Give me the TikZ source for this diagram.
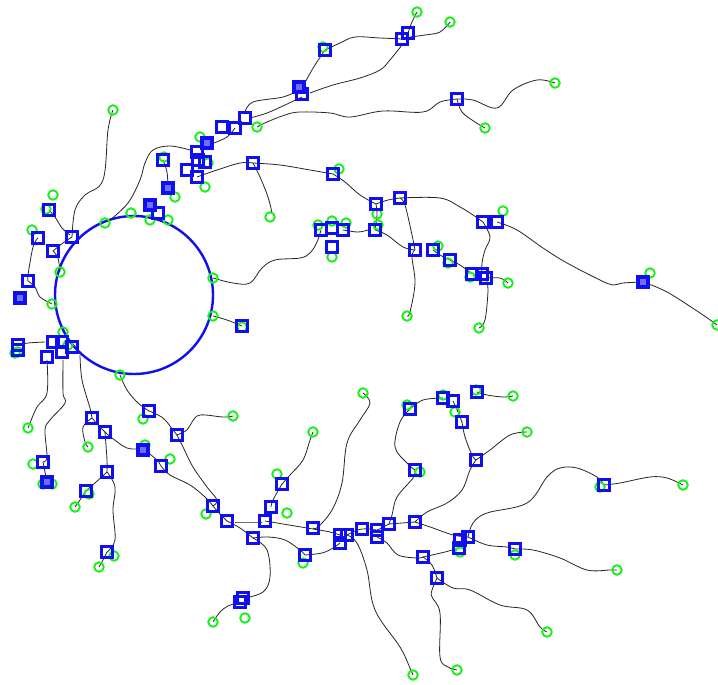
\documentclass[tikz,border=0pt]{standalone}
\usepackage{tikz}
\definecolor{sqblue}{RGB}{15,15,240}
\definecolor{ringgreen}{RGB}{25,240,25}
\tikzset{
  sq/.style={draw=sqblue, line width=2.7pt, minimum size=11.2pt, inner sep=0pt},
  sqf/.style={draw=sqblue, line width=4pt, minimum size=10pt, inner sep=0pt, fill=sqblue!60!white},
  gr/.style={circle, draw=ringgreen, line width=1.9pt, minimum size=9.5pt, inner sep=0pt},
  br/.style={line width=0.8pt, black!85},
  ring/.style={draw=sqblue, line width=2.4pt}
}
\newcommand\brn[1]{\draw[br] plot[smooth, tension=0.6] coordinates {#1};}
\begin{document}
\begin{tikzpicture}[x=1pt,y=-1pt]
\useasboundingbox (0,0) rectangle (718,685);
\fill[white] (0,0) rectangle (718,685);
% central ring
\draw[ring] (134,295) circle [radius=79];
% branches
\brn{(417,12) (412,22) (408,33)}
\brn{(450,22) (440,32) (425,35) (410,37)}
\brn{(402,39) (380,38) (355,37) (340,43) (325,50)}
\brn{(325,50) (315,65) (308,77) (302,88)}
\brn{(402,45) (390,60) (380,70) (360,78) (333,85) (310,93)}
\brn{(257,127) (267,122) (285,115) (300,112) (330,113) (350,117) (383,111) (423,112) (440,102) (457,99)}
\brn{(457,99) (473,100) (497,108) (513,90) (537,80) (555,83)}
\brn{(457,99) (462,112) (475,122) (485,128)}
\brn{(299,90) (283,97) (253,102) (245,112)}
\brn{(302,97) (285,105) (267,113) (250,118)}
\brn{(235,128) (227,137) (214,143)}
\brn{(190,150) (170,146) (153,150) (145,163) (140,180) (128,203) (110,220)}
\brn{(163,160) (167,172) (168,188)}
\brn{(197,177) (217,170) (240,163) (253,163)}
\brn{(253,163) (280,165) (310,170) (333,174)}
\brn{(253,163) (260,177) (268,197) (272,213)}
\brn{(333,174) (345,182) (360,195) (376,204)}
\brn{(376,204) (388,200) (400,198)}
\brn{(376,204) (377,215) (375,230)}
\brn{(343,230) (358,232) (368,230)}
\brn{(321,230) (317,242) (310,253) (300,258) (275,260) (262,268) (250,283) (233,283) (213,278)}
\brn{(375,230) (387,235) (403,247) (415,250)}
\brn{(433,250) (440,255) (450,260) (460,265) (472,274)}
\brn{(400,198) (440,198) (460,207) (473,215) (483,222)}
\brn{(400,198) (405,205) (412,235) (415,250)}
\brn{(415,250) (412,257) (415,283) (410,312) (407,316)}
\brn{(483,222) (490,237) (485,250) (482,263) (482,274)}
\brn{(486,278) (488,290) (485,320) (479,328)}
\brn{(486,278) (500,278) (508,283)}
\brn{(497,222) (517,230) (543,248) (567,263) (600,280) (613,285) (623,283) (643,282)}
\brn{(643,282) (667,292) (700,313) (717,325)}
\brn{(113,110) (108,130) (103,180) (85,195) (75,210) (72,237)}
\brn{(49,210) (55,217) (62,228) (70,235)}
\brn{(72,237) (63,243) (53,251)}
\brn{(53,251) (58,258) (60,272)}
\brn{(38,238) (33,247) (28,275) (28,281)}
\brn{(28,281) (35,287) (40,297) (52,304)}
\brn{(213,316) (227,320) (242,326)}
\brn{(18,345) (28,343) (45,342)}
\brn{(47,360) (47,393) (37,407) (30,423) (28,428)}
\brn{(63,360) (63,393) (65,403) (50,420) (45,430) (47,457) (43,462)}
\brn{(43,462) (45,472) (47,482)}
\brn{(80,355) (82,380) (90,408) (92,418)}
\brn{(92,418) (83,427) (85,442) (88,447)}
\brn{(92,418) (98,425) (105,432)}
\brn{(105,432) (107,460) (107,472)}
\brn{(107,472) (95,483) (86,491) (80,500) (75,507)}
\brn{(107,472) (115,487) (113,510) (115,540) (107,552)}
\brn{(107,552) (103,560) (99,567)}
\brn{(105,432) (112,438) (127,448) (143,450) (157,460) (161,466) (170,475) (190,485) (205,497) (213,506)}
\brn{(120,375) (127,390) (138,403) (149,411)}
\brn{(149,411) (163,418) (173,430) (177,435)}
\brn{(177,435) (187,430) (192,422) (200,415) (223,417) (233,416)}
\brn{(177,435) (183,447) (193,467) (207,487) (217,500) (213,506)}
\brn{(213,506) (220,514) (227,521)}
\brn{(227,521) (240,528) (253,538)}
\brn{(235,522) (250,522) (262,522)}
\brn{(253,538) (268,537) (285,540) (300,550) (305,555)}
\brn{(265,521) (277,523) (307,528) (313,529)}
\brn{(313,529) (330,532) (340,535)}
\brn{(253,538) (267,550) (270,577) (263,592) (245,598)}
\brn{(240,602) (228,606) (220,612) (213,622)}
\brn{(271,507) (273,500) (282,484)}
\brn{(282,484) (290,475) (303,460) (310,440) (313,432)}
\brn{(313,528) (318,527) (332,510) (342,483) (347,443) (360,420) (370,403) (363,393)}
\brn{(410,409) (400,422) (395,447) (407,463) (415,470)}
\brn{(415,470) (413,478) (397,497) (392,515) (389,524)}
\brn{(410,409) (423,400) (443,398)}
\brn{(477,392) (487,395) (503,397) (513,396)}
\brn{(453,401) (458,412) (462,422)}
\brn{(462,422) (465,437) (472,455) (476,460)}
\brn{(476,460) (490,450) (510,435) (527,432)}
\brn{(476,460) (470,470) (462,490) (447,503) (427,512) (415,522)}
\brn{(389,524) (402,523) (415,522)}
\brn{(415,522) (433,528) (453,535) (468,537)}
\brn{(468,537) (473,523) (487,513) (527,503) (547,477) (560,468) (577,468) (597,477) (604,485)}
\brn{(604,485) (620,483) (650,477) (667,478) (683,485)}
\brn{(468,537) (487,545) (507,547) (515,549)}
\brn{(515,549) (533,550) (560,558) (587,570) (610,570) (617,570)}
\brn{(347,535) (357,543) (367,570) (375,610) (400,647) (410,668) (413,675)}
\brn{(377,537) (387,543) (398,555) (417,558) (423,557)}
\brn{(423,557) (432,565) (437,578)}
\brn{(423,557) (445,552) (459,548)}
\brn{(437,578) (432,590) (432,597) (440,613) (440,657) (448,667) (457,670)}
\brn{(437,578) (453,588) (470,590) (500,605) (527,610) (540,627) (547,632)}
\brn{(305,555) (322,553) (333,548) (340,543)}
\brn{(347,535) (355,531) (362,529) (370,529) (377,530) (383,527) (389,524)}
% green end markers
\foreach \p [count=\i] in {(417,12),(450,22),(323,47),(555,83),(485,128),(257,127),(200,137),(208,163),(205,187),(164,157),(175,197),(270,217),(339,169),(377,214),(113,110),(53,195),(46,209),(32,230),(150,220),(168,220),(131,213),(105,223),(60,272),(52,304),(63,332),(120,375),(213,278),(213,316),(242,327),(15,353),(68,345),(28,428),(33,464),(43,484),(52,484),(88,447),(89,494),(75,507),(114,556),(99,567),(145,445),(170,459),(143,419),(233,416),(206,514),(277,474),(287,513),(303,563),(213,622),(245,618),(363,393),(313,432),(407,405),(443,395),(455,412),(476,390),(513,396),(527,432),(420,472),(600,487),(683,485),(515,555),(460,552),(617,570),(547,632),(457,670),(413,675),(318,225),(332,221),(346,223),(332,257),(378,225),(438,246),(448,263),(470,277),(508,283),(407,316),(479,328),(503,211),(650,273),(717,325),(20,298),(18,352)}
  {\node[gr] (g\i) at \p {};}
% blue squares
\foreach \p [count=\i] in {(325,50),(408,33),(402,39),(302,94),(457,99),(245,118),(222,127),(235,128),(197,152),(198,160),(205,162),(187,170),(197,177),(163,160),(158,213),(253,163),(333,174),(376,204),(400,198),(321,230),(332,228),(343,230),(375,230),(332,247),(415,250),(433,250),(450,260),(472,274),(482,274),(486,278),(483,222),(497,222),(49,210),(38,238),(72,237),(53,251),(28,281),(242,326),(18,345),(18,350),(53,342),(62,342),(72,347),(62,352),(47,357),(92,418),(105,432),(43,462),(107,472),(86,491),(107,552),(161,466),(149,411),(177,435),(213,506),(227,521),(253,538),(265,521),(271,507),(282,484),(313,528),(305,555),(243,598),(240,602),(340,535),(347,535),(340,543),(362,529),(377,530),(377,537),(389,524),(415,522),(468,537),(460,540),(459,548),(515,549),(423,557),(437,578),(410,409),(443,398),(453,401),(477,392),(462,422),(476,460),(415,470),(604,485)}
  {\node[sq] (s\i) at \p {};}
\foreach \p [count=\i] in {(299,87),(207,143),(168,188),(150,205),(643,282),(20,298),(47,482),(143,450)}
  {\node[sqf] (f\i) at \p {};}
\end{tikzpicture}
\end{document}
